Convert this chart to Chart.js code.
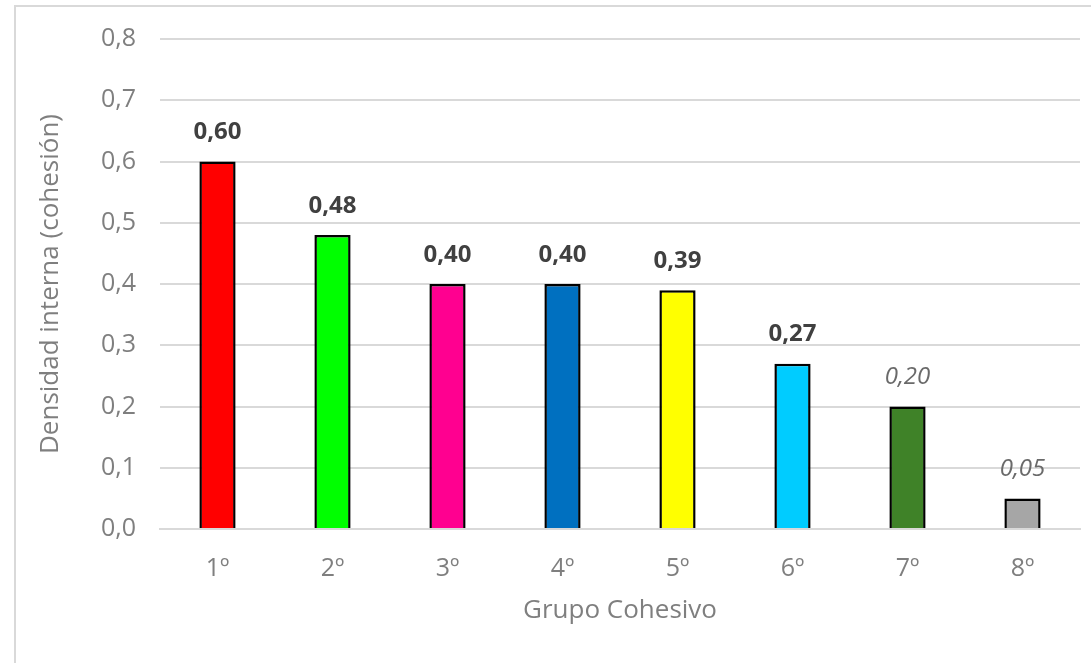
<!DOCTYPE html>
<html>
<head>
<meta charset="utf-8">
<script src="https://cdn.jsdelivr.net/npm/chart.js@4"></script>
<style>
  html, body { margin: 0; padding: 0; background: #fff; overflow: hidden; }
  #frame { position: absolute; left: 14px; top: 5px; width: 1200px; height: 800px;
           border-left: 2px solid #d9d9d9; border-top: 2px solid #d9d9d9; }
  #wrap { position: absolute; left: 0; top: 0; width: 1091px; height: 663px; }
</style>
</head>
<body>
<div id="frame"></div>
<div id="wrap"><canvas id="chart"></canvas></div>
<script>
'use strict';

var groups = ['1º', '2º', '3º', '4º', '5º', '6º', '7º', '8º'];
var cohesion = [0.60, 0.48, 0.40, 0.40, 0.39, 0.27, 0.20, 0.05];
var yTicks = [0, 0.1, 0.2, 0.3, 0.4, 0.5, 0.6, 0.7, 0.8];

var barColors = ['#ff0000', '#00ff00', '#ff0090', '#0070c0', '#ffff00', '#00ccff', '#3f8228', '#a6a6a6'];
// last two labels are drawn in grey italic
var faintFrom = 6;
var fontName = '"Open Sans", sans-serif';

function comma(v, digits) {
  return v.toFixed(digits).replace('.', ',');
}

var valueLabels = {
  id: 'valueLabels',
  afterDatasetsDraw: function (chart) {
    var ctx = chart.ctx;
    var meta = chart.getDatasetMeta(0);
    meta.data.forEach(function (bar, i) {
      var faint = i >= faintFrom;
      ctx.save();
      ctx.font = (faint ? 'italic ' : 'bold ') + '24px ' + fontName;
      ctx.fillStyle = faint ? '#6a6a6a' : '#404040';
      ctx.textAlign = 'center';
      ctx.textBaseline = 'middle';
      ctx.fillText(comma(cohesion[i], 2), bar.x, bar.y - 29);
      ctx.restore();
    });
  }
};

var ctx = document.getElementById('chart').getContext('2d');

var chart = new Chart(ctx, {
  type: 'bar',
  data: {
    labels: groups,
    datasets: [{
      data: cohesion,
      backgroundColor: barColors,
      borderColor: '#000000',
      borderWidth: 2.5,
      borderSkipped: 'bottom',
      categoryPercentage: 1,
      barPercentage: 0.315
    }]
  },
  options: {
    responsive: true,
    maintainAspectRatio: false,
    animation: false,
    layout: { padding: { top: 39, right: 11, left: 0, bottom: 0 } },
    plugins: {
      legend: { display: false },
      tooltip: { enabled: false }
    },
    scales: {
      x: {
        grid: { display: false, drawTicks: false },
        border: { display: true, color: '#d9d9d9', width: 2 },
        ticks: { color: '#7f7f7f', padding: 25, font: { family: fontName, size: 25 } },
        title: {
          display: true,
          text: 'Grupo Cohesivo',
          color: '#7f7f7f',
          font: { family: fontName, size: 26 },
          padding: { top: 0, bottom: 37 }
        },
        afterFit: function (scale) { scale.height = 134; }
      },
      y: {
        min: 0,
        max: 0.8,
        afterBuildTicks: function (scale) {
          scale.ticks = yTicks.map(function (v) { return { value: v }; });
        },
        grid: { color: '#d9d9d9', lineWidth: 2, drawTicks: false },
        border: { display: false },
        ticks: {
          color: '#7f7f7f',
          padding: 24,
          font: { family: fontName, size: 25 },
          callback: function (v) { return comma(v, 1); }
        },
        title: {
          display: true,
          text: 'Densidad interna (cohesión)',
          color: '#7f7f7f',
          font: { family: fontName, size: 26 },
          padding: { top: 35, bottom: 0 }
        },
        afterFit: function (scale) { scale.width = 160; }
      }
    }
  },
  plugins: [valueLabels]
});
</script>
</body>
</html>
